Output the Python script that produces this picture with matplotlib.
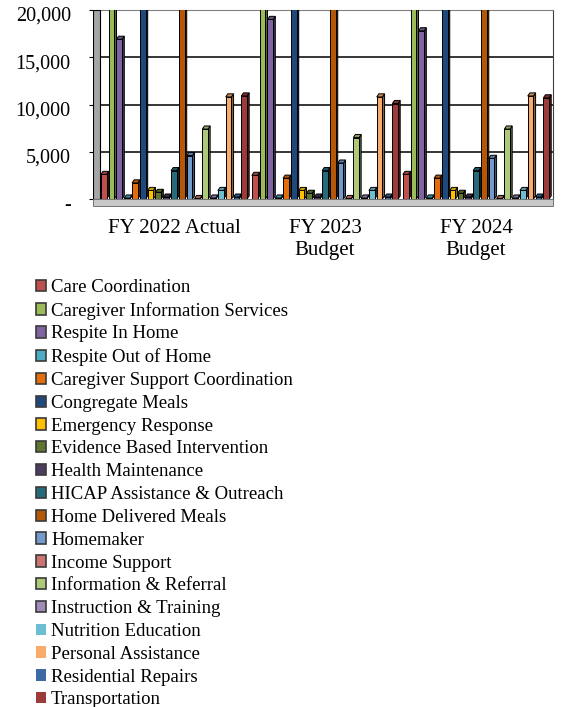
import numpy as np
import matplotlib.pyplot as plt
from matplotlib.patches import Patch, Rectangle
from matplotlib.transforms import ScaledTranslation

plt.rcParams['font.family'] = ['Liberation Serif', 'DejaVu Serif']

# Spending by service, three fiscal years
years = ['FY 2022 Actual', 'FY 2023\nBudget', 'FY 2024\nBudget']
services = [
    'Care Coordination', 'Caregiver Information Services', 'Respite In Home',
    'Respite Out of Home', 'Caregiver Support Coordination', 'Congregate Meals',
    'Emergency Response', 'Evidence Based Intervention', 'Health Maintenance',
    'HICAP Assistance & Outreach', 'Home Delivered Meals', 'Homemaker',
    'Income Support', 'Information & Referral', 'Instruction & Training',
    'Nutrition Education', 'Personal Assistance', 'Residential Repairs',
    'Transportation',
]
fy2022 = [2600, 22000, 16900, 100, 1700, 22000, 900, 700, 200, 3000, 22000, 4600,
          50, 7400, 100, 900, 10800, 200, 10900]
fy2023 = [2500, 22000, 19000, 100, 2200, 22000, 900, 600, 200, 3000, 22000, 3800,
          50, 6500, 100, 900, 10800, 200, 10100]
fy2024 = [2600, 22000, 17800, 100, 2200, 22000, 900, 600, 200, 3000, 22000, 4300,
          50, 7400, 100, 900, 10900, 200, 10700]

colors = ['#C0504D', '#9BBB59', '#8064A2', '#4BACC6', '#E46C0A', '#1F497D',
          '#FFC000', '#5F7530', '#4D3B62', '#276A7C', '#B65708', '#729ACA',
          '#CD7371', '#AFC97A', '#A08BB9', '#6FBDD1', '#F9AB6B', '#3D6AA3',
          '#9C3B39']
edged = [True] * 15 + [False] * 4


def darker(c, f=0.55):
    r, g, b = plt.matplotlib.colors.to_rgb(c)
    return (r * f, g * f, b * f)


values = np.array([fy2022, fy2023, fy2024]).T
n = len(services)
slot = 0.982 / n
front = 0.038
side = 0.014
depth = 330
ymax = 20000

fig = plt.figure(figsize=(5.63, 7.07), dpi=100)
ax = fig.add_axes([93 / 563, 1 - 199 / 707, 460 / 563, 189 / 707])
ax.set_xlim(-0.536, 2.51)
ax.set_ylim(0, ymax)

# back wall gridlines
for t in range(5000, ymax + 1, 5000):
    ax.axhline(t, color='black', lw=1.1, zorder=1)

x = np.arange(len(years))
for i in range(n):
    cx = x + (i - (n - 1) / 2) * slot
    for xc, v in zip(cx, values[i]):
        x0 = xc - front / 2
        x1 = xc + front / 2
        # right side face
        ax.fill([x1, x1 + side, x1 + side, x1], [0, depth, v + depth, v],
                color=darker(colors[i]), ec='black', lw=0.7, zorder=3)
        # top face
        ax.fill([x0, x0 + side, x1 + side, x1], [v, v + depth, v + depth, v],
                color=darker(colors[i], 0.8), ec='black', lw=0.7, zorder=3)
    ax.bar(cx, values[i], width=front, color=colors[i], edgecolor='black',
           linewidth=0.7, zorder=4)

# left wall and floor
ax.add_patch(Rectangle((0, 0), 0.015, 1, transform=ax.transAxes,
                       facecolor='#a6a6a6', edgecolor='black', lw=0.8, zorder=5))
ax.add_patch(Rectangle((0, -0.035), 1, 0.035, transform=ax.transAxes,
                       facecolor='#c8c8c8', edgecolor='#606060', lw=0.6,
                       clip_on=False, zorder=5))

for s in ['left', 'bottom']:
    ax.spines[s].set_visible(False)
ax.spines['top'].set_color('#808080')
ax.spines['right'].set_color('#404040')

ax.set_yticks(range(0, ymax + 1, 5000))
ax.set_yticklabels(['-'] + [f'{t:,}' for t in range(5000, ymax + 1, 5000)])
ax.tick_params(axis='y', length=3, pad=13, labelsize=14.5, width=0.8)
for lbl in ax.get_yticklabels():
    lbl.set_transform(lbl.get_transform() + ScaledTranslation(0, -0.04, fig.dpi_scale_trans))

ax.set_xticks(x)
ax.set_xticklabels(years, linespacing=1.17)
ax.tick_params(axis='x', length=0, pad=14.5, labelsize=15)

handles = [Patch(facecolor=c, edgecolor='#3a3a3a' if e else 'none', linewidth=1.2)
           for c, e in zip(colors, edged)]
fig.legend(handles, services, loc='upper left', bbox_to_anchor=(36 / 563, 1 - 279 / 707),
           frameon=False, fontsize=13.5, borderpad=0, borderaxespad=0,
           handlelength=0.55, handleheight=0.55, handletextpad=0.25,
           labelspacing=0.31)

fig.savefig('out.png', dpi=100)
